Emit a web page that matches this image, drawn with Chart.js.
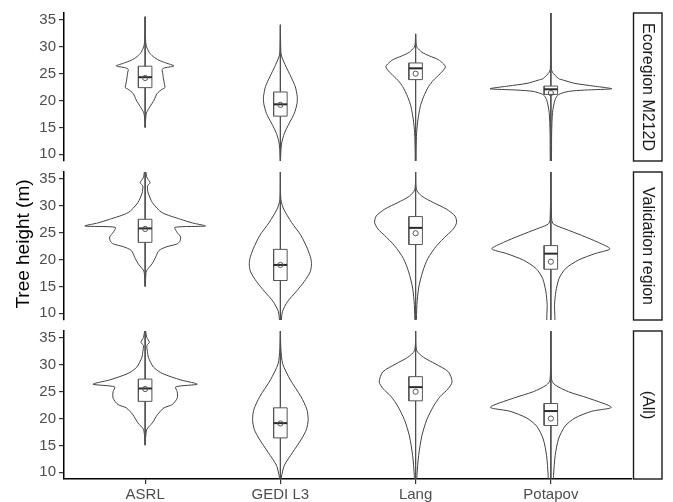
<!DOCTYPE html>
<html>
<head>
<meta charset="utf-8">
<script src="https://cdn.jsdelivr.net/npm/chart.js@4.4.1/dist/chart.umd.min.js"></script>
<style>
  html, body { margin: 0; padding: 0; background: #fff; }
  #wrap { position: relative; width: 673px; height: 502px; overflow: hidden; }
  #wrap canvas { position: absolute; left: 0; }
</style>
</head>
<body>
<div id="wrap">
  <canvas id="panel0" width="673" height="166" style="top:0px"></canvas>
  <canvas id="panel1" width="673" height="160" style="top:166px"></canvas>
  <canvas id="panel2" width="673" height="176" style="top:326px"></canvas>
</div>
<script>
// Categories, facet rows and axis ticks
const categories = ['ASRL', 'GEDI L3', 'Lang', 'Potapov'];
const panelLabels = ['Ecoregion M212D', 'Validation region', '(All)'];
const yTicks = [10, 15, 20, 25, 30, 35];
const yTitle = 'Tree height (m)';

// Violin profiles: [height (m), relative density]
const m212dASRL = [[35.6,0],[31.0,0.5],[30.0,1.5],[29.0,4],[28.2,8],[27.5,14],[27.0,21],[26.45,29],[26.1,20],[25.8,17],[25.3,17.5],[24.0,18.5],[23.0,19.5],[22.4,20],[22.1,17],[21.3,12],[20.1,9],[18.9,5],[17.7,1.3],[16.5,0.5],[15.0,0]];
const m212dGEDI = [[34.1,0],[29.0,0.5],[28.1,1.5],[26.3,5.7],[24.4,10.7],[22.6,15],[20.7,17],[19.4,16.7],[17.6,14],[15.8,9],[13.9,4],[12.1,1.3],[10.5,0.5],[8.0,0]];
const m212dLang = [[32.4,0],[30.5,0.5],[29.9,1.5],[29.0,6.3],[28.3,14],[27.6,23],[26.3,30],[25.0,24.7],[23.8,18],[22.6,13],[20.7,8],[18.9,4.7],[16.4,2.3],[14.0,1],[11.0,0.5],[8.0,0.3]];
const m212dPotapov = [[37,0],[26.0,0.5],[25.3,1.5],[24.1,7.7],[23.8,12.7],[23.2,24],[22.7,43],[22.2,61.3],[21.95,34],[21.7,17.7],[21.1,7.7],[20.2,4.3],[17.8,1.7],[14.0,0.8],[8.0,0.5]];

const validASRL = [[37,0],[36.3,0.8],[35.4,1.5],[34.9,3],[34.3,5],[33.7,2.3],[33.0,2.5],[32.4,3],[30.6,7.3],[28.75,17],[27.5,35.7],[26.8,48],[26.25,60.7],[26.0,30],[25.1,32],[24.2,35.7],[23.4,35],[22.9,32],[22.4,22],[21.7,14],[20.5,10.7],[19.3,7.3],[17.85,1.3],[16.5,0.5],[15.0,0]];
const validGEDI = [[37,0],[31.2,0.5],[29.4,3.3],[26.9,11.3],[24.5,20.7],[22.0,27.3],[20.2,30.7],[19.0,31.3],[17.7,30],[15.9,24],[14.0,15.7],[12.2,7.3],[10.3,2],[8.0,0.5]];
const validLang = [[37,0],[33.05,0.8],[31.8,6.3],[30.6,18],[29.4,31],[28.1,39.7],[26.9,41.3],[25.7,38],[24.5,31.3],[22.6,21.3],[20.2,12.3],[17.7,7],[14.7,3],[11.6,1.3],[8.0,0.5]];
const validPotapov = [[37,0],[27.5,0.8],[26.6,2.7],[25.7,14.3],[24.5,31],[23.2,47.7],[22.0,59.5],[21.1,44.3],[19.9,27.7],[18.35,15],[16.5,8.3],[14.0,5],[11.6,3.7],[8.0,3.5]];

const allASRL = [[37,0],[36.3,0.5],[35.1,1.7],[34.2,4.3],[33.6,1.7],[32.5,2.3],[31.4,3.3],[29.6,8.3],[28.4,17.3],[27.2,35.7],[26.4,52.5],[25.9,30.7],[25.0,32.3],[23.8,32.3],[22.6,27.3],[22.0,19],[20.7,12.3],[19.2,7.3],[18.0,1.7],[16.5,0.5],[15.05,0]];
const allGEDI = [[37,0],[33.0,0.5],[30.2,2.3],[27.2,10],[24.1,20.7],[21.7,26.7],[19.8,28],[18.0,26.3],[16.2,21.3],[13.7,12.3],[11.3,4],[9.1,1],[8.0,0.5]];
const allLang = [[37,0],[32.7,1],[31.4,8],[30.2,19.7],[28.7,33],[26.85,36.7],[25.6,33],[24.1,24.7],[22.3,18],[19.8,11.3],[16.8,6.3],[13.1,3],[9.4,1.3],[8.0,1]];
const allPotapov = [[37,0],[27.2,0.8],[26.25,4.3],[25.0,17.7],[23.8,37.7],[22.1,61],[21.35,41],[20.1,24.3],[18.6,14.3],[16.2,7.7],[13.1,4.3],[9.4,2.7],[8.0,2.5]];

// Box statistics per category: [q1, median, q3, mean]
const boxM212D = [[22.4,24.35,26.4,24.2],[17.1,19.3,21.6,19.2],[23.9,26.0,27.0,25.0],[21.15,22.1,22.7,21.4]];
const boxValidation = [[23.2,25.8,27.5,25.7],[16.1,19.0,21.9,19.0],[22.8,25.9,28.0,24.9],[18.2,21.1,22.6,19.6]];
const boxAll = [[23.2,25.6,27.35,25.5],[16.4,19.15,22.0,19.1],[23.3,25.85,27.8,25.0],[18.7,21.4,22.8,20.0]];

const profiles = [
  [m212dASRL, m212dGEDI, m212dLang, m212dPotapov],
  [validASRL, validGEDI, validLang, validPotapov],
  [allASRL, allGEDI, allLang, allPotapov]
];
const boxes = [boxM212D, boxValidation, boxAll];

const FONT = '"Liberation Sans", Arial, Helvetica, sans-serif';
const MAX_HALF = 0.45;     // widest violin spans 0.9 of a category slot
const BOX_HALF = 0.05;
const maxDensity = Math.max(...profiles.flat().flatMap(p => p.map(d => d[1])));

function violinOutline(profile, c) {
  const s = MAX_HALF / maxDensity;
  const right = profile.map(([h, d]) => ({ x: c + d * s, y: h }));
  const left = profile.slice().reverse().map(([h, d]) => ({ x: c - d * s, y: h }));
  return right.concat(left);
}

function panelDatasets(p) {
  const sets = [];
  profiles[p].forEach((prof, i) => {
    const c = i + 1;
    const [q1, med, q3, mean] = boxes[p][i];
    sets.push({
      data: violinOutline(prof, c), showLine: true, tension: 0.25,
      borderColor: '#404040', borderWidth: 1, pointRadius: 0, fill: false, order: 5
    });
    sets.push({
      data: [{ x: c, y: prof[0][0] }, { x: c, y: prof[prof.length - 1][0] }],
      showLine: true, borderColor: '#505050', borderWidth: 1, pointRadius: 0, order: 4
    });
    sets.push({
      data: [{ x: c - BOX_HALF, y: q1 }, { x: c + BOX_HALF, y: q1 }, { x: c + BOX_HALF, y: q3 },
             { x: c - BOX_HALF, y: q3 }, { x: c - BOX_HALF, y: q1 }],
      showLine: true, borderColor: '#555', borderWidth: 1, pointRadius: 0,
      fill: 'shape', backgroundColor: '#ffffff', order: 3
    });
    sets.push({
      data: [{ x: c - BOX_HALF, y: med }, { x: c + BOX_HALF, y: med }],
      showLine: true, borderColor: '#2a2a2a', borderWidth: 2, pointRadius: 0, order: 2
    });
    sets.push({
      data: [{ x: c, y: mean }], showLine: false, pointRadius: 2.6, pointStyle: 'circle',
      pointBorderWidth: 1, pointBorderColor: '#555', pointBackgroundColor: 'rgba(255,255,255,0)', order: 1
    });
  });
  return sets;
}

// Facet strip on the right of each panel
const stripPlugin = {
  id: 'strip',
  afterDraw(chart, args, opts) {
    const { ctx, chartArea: a } = chart;
    const x0 = a.right + 1.5, w = 28.5;
    ctx.save();
    ctx.fillStyle = '#fff';
    ctx.strokeStyle = '#1a1a1a';
    ctx.lineWidth = 1.4;
    ctx.fillRect(x0, a.top, w, a.bottom - a.top);
    ctx.strokeRect(x0, a.top, w, a.bottom - a.top);
    ctx.translate(x0 + w / 2, (a.top + a.bottom) / 2);
    ctx.rotate(Math.PI / 2);
    ctx.fillStyle = '#1a1a1a';
    ctx.font = '16px ' + FONT;
    ctx.textAlign = 'center';
    ctx.textBaseline = 'middle';
    ctx.fillText(opts.text, 0, 0);
    ctx.restore();
  }
};

// Shared y-axis title, drawn on the middle panel
const yTitlePlugin = {
  id: 'ytitle',
  afterDraw(chart, args, opts) {
    if (!opts.text) return;
    const ctx = chart.ctx;
    ctx.save();
    ctx.translate(opts.x, opts.y);
    ctx.rotate(-Math.PI / 2);
    ctx.fillStyle = '#000';
    ctx.font = '19px ' + FONT;
    ctx.textAlign = 'center';
    ctx.textBaseline = 'alphabetic';
    ctx.fillText(opts.text, 0, 0);
    ctx.restore();
  }
};

const layouts = [
  { padTop: 13, padBottom: 5, showX: false },
  { padTop: 6, padBottom: 6, showX: false },
  { padTop: 5, padBottom: 0, showX: true }
];

layouts.forEach((L, p) => {
  new Chart(document.getElementById('panel' + p), {
    type: 'scatter',
    data: { datasets: panelDatasets(p) },
    plugins: [stripPlugin, yTitlePlugin],
    options: {
      responsive: false,
      animation: false,
      devicePixelRatio: 1,
      layout: { padding: { left: 0, right: 41, top: L.padTop, bottom: L.padBottom } },
      plugins: {
        legend: { display: false },
        tooltip: { enabled: false },
        strip: { text: panelLabels[p] },
        ytitle: p === 1 ? { text: yTitle, x: 29, y: 78 } : { text: '' }
      },
      scales: {
        x: {
          type: 'linear', min: 0.4, max: 4.6, display: L.showX,
          afterBuildTicks: ax => { ax.ticks = categories.map((_, i) => ({ value: i + 1 })); },
          afterFit: ax => { ax.height = L.showX ? 23 : 0; ax.paddingLeft = 0; ax.paddingRight = 0; },
          border: { display: true, color: '#000', width: 1.5 },
          grid: { display: true, drawOnChartArea: false, drawTicks: true, tickLength: 5, color: '#333', lineWidth: 1.2 },
          ticks: {
            callback: v => categories[Math.round(v) - 1],
            color: '#4d4d4d', font: { size: 15, family: FONT }, padding: 2,
            maxRotation: 0, autoSkip: false
          }
        },
        y: {
          type: 'linear', min: 8.75, max: 36.3,
          afterBuildTicks: ax => { ax.ticks = yTicks.map(v => ({ value: v })); },
          afterFit: ax => { ax.width = 64; ax.paddingTop = 0; ax.paddingBottom = 0; },
          border: { display: true, color: '#000', width: 1.5 },
          grid: { display: true, drawOnChartArea: false, drawTicks: true, tickLength: 5, color: '#333', lineWidth: 1.2 },
          ticks: { color: '#4d4d4d', font: { size: 15, family: FONT }, padding: 3 }
        }
      }
    }
  });
});
</script>
</body>
</html>
